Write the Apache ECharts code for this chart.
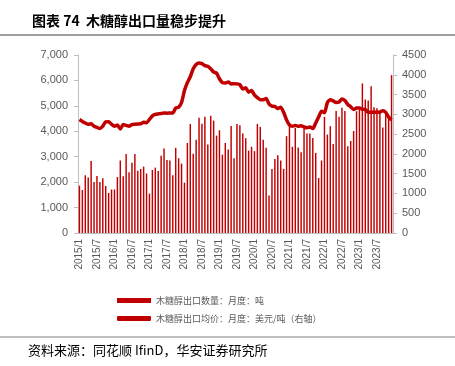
<!DOCTYPE html>
<html><head><meta charset="utf-8">
<script src="https://cdn.jsdelivr.net/npm/echarts@6/dist/echarts.min.js"></script>
<style>html,body{margin:0;padding:0;background:#fff}#c{width:455px;height:366px}</style>
</head><body><div id="c"></div>
<script>
// months 2015/1 .. 2023/12
const categories = [];
for (let y = 2015; y <= 2023; y++) for (let m = 1; m <= 12; m++) categories.push(y + '/' + m);

const exportVolume = [
1860,1690,2270,2180,2830,2010,2240,2010,2150,1850,1575,1710,
1710,2200,2850,2230,3110,2390,2760,3110,2450,2520,2610,2340,
1550,2480,2570,2440,3040,3320,2870,2850,2270,3350,2940,2730,
1980,3540,4290,3120,3670,4530,4300,4570,3480,4610,4420,3830,
4040,3080,3540,3280,4210,2940,4290,4240,3910,3730,3240,3390,
3220,4290,4170,3670,3350,1470,2520,2910,3060,2850,2520,3810,
4240,3390,4130,3360,3180,4090,3910,3910,3740,3150,2165,2850,
4570,3870,4200,3500,4800,4570,4930,4800,3410,3620,4010,4790,
4860,5880,5250,5210,5770,4950,4910,4800,4150,4720,4620,6210
];

const exportPrice = [
2870,2820,2780,2750,2760,2700,2670,2640,2700,2810,2815,2750,
2700,2730,2630,2740,2720,2700,2740,2750,2757,2760,2800,2790,
2870,2960,3000,3010,3020,3035,3030,3035,3035,3160,3180,3300,
3600,3800,3950,4150,4260,4300,4280,4230,4215,4150,4070,4040,
3900,3800,3790,3820,3770,3775,3770,3750,3640,3670,3560,3600,
3490,3420,3370,3370,3400,3260,3210,3200,3150,3180,3050,2860,
2730,2700,2715,2700,2710,2680,2660,2680,2640,2780,2930,3080,
3040,3300,3370,3340,3300,3310,3390,3350,3250,3190,3120,3160,
3160,3130,3120,3050,3050,3060,3050,3060,3090,3050,2930,2860
];

const leftTicks = {min: 0, max: 7000, interval: 1000};
const rightTicks = {min: 0, max: 4500, interval: 500};
const seriesNames = ['木糖醇出口数量：月度：吨', '木糖醇出口均价：月度：美元/吨（右轴）'];
const titleText = '图表 74  木糖醇出口量稳步提升';
const sourceText = '资料来源：同花顺 IfinD，华安证券研究所';

const red = '#c00000';
const grey = '#595959';
const axisGrey = '#bfbfbf';
const font = '"Liberation Sans", Arial, sans-serif';

const chart = echarts.init(document.getElementById('c'), null, {renderer: 'canvas'});
chart.setOption({
  animation: false,
  backgroundColor: '#fff',
  textStyle: {fontFamily: font},
  title: {
    text: titleText, left: 27, top: 9,
    textStyle: {fontSize: 14, fontWeight: 'bold', color: '#000', fontFamily: '"Noto Sans CJK SC", sans-serif'}
  },
  graphic: [
    {type: 'line', shape: {x1: 0, y1: 35, x2: 455, y2: 35}, style: {stroke: '#7f7f7f', lineWidth: 1.5}},
    {type: 'line', shape: {x1: 0, y1: 337, x2: 455, y2: 337}, style: {stroke: '#7f7f7f', lineWidth: 1}},
    {type: 'text', left: 28, top: 344, style: {text: sourceText, fontSize: 13, fill: '#000', fontFamily: '"Noto Sans CJK SC", sans-serif'}}
  ],
  grid: {left: 78, right: 62, top: 55, bottom: 133, containLabel: false},
  legend: {
    orient: 'vertical', left: 112, top: 291, itemGap: 9,
    itemWidth: 34, itemHeight: 5,
    textStyle: {fontSize: 9, color: grey, fontFamily: '"Noto Sans CJK SC", sans-serif'},
    data: [{name: seriesNames[0], icon: 'rect'}, {name: seriesNames[1], icon: 'roundRect'}]
  },
  xAxis: {
    type: 'category', data: categories, boundaryGap: true,
    axisLine: {lineStyle: {color: axisGrey}},
    axisTick: {interval: 5, length: 4, lineStyle: {color: axisGrey}},
    axisLabel: {interval: 5, rotate: 90, fontSize: 10, color: grey, margin: 6}
  },
  yAxis: [
    {type: 'value', min: leftTicks.min, max: leftTicks.max, interval: leftTicks.interval,
     splitLine: {show: false},
     axisLine: {show: true, lineStyle: {color: axisGrey}},
     axisTick: {show: true, length: 4, lineStyle: {color: axisGrey}},
     axisLabel: {fontSize: 11, color: grey, margin: 10,
       formatter: v => v.toLocaleString('en-US')}},
    {type: 'value', min: rightTicks.min, max: rightTicks.max, interval: rightTicks.interval,
     splitLine: {show: false},
     axisLine: {show: true, lineStyle: {color: axisGrey}},
     axisTick: {show: true, length: 4, lineStyle: {color: axisGrey}},
     axisLabel: {fontSize: 11, color: grey, margin: 9, formatter: v => String(v)}}
  ],
  series: [
    {name: seriesNames[0], type: 'bar', data: exportVolume, yAxisIndex: 0,
     barWidth: '50%', itemStyle: {color: red}},
    {name: seriesNames[1], type: 'line', data: exportPrice, yAxisIndex: 1,
     symbol: 'none', smooth: 0.2, lineStyle: {color: red, width: 3.5}, itemStyle: {color: red}}
  ]
});
</script>
</body></html>
